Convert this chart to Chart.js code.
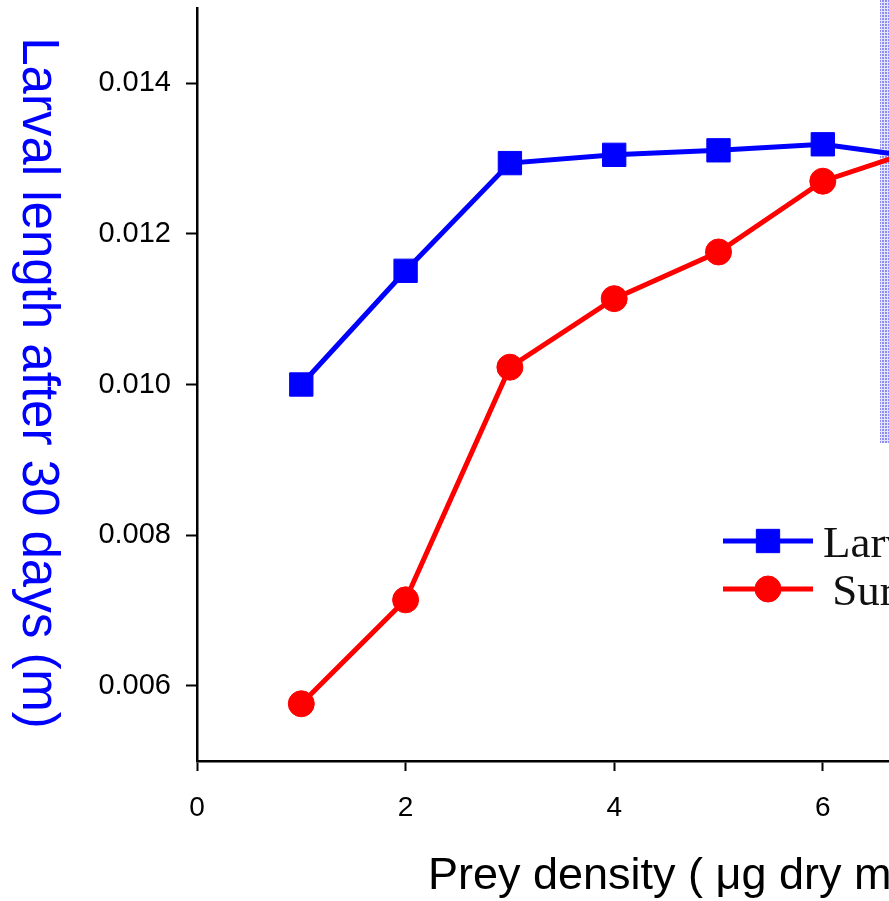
<!DOCTYPE html>
<html>
<head>
<meta charset="utf-8">
<script src="https://cdn.jsdelivr.net/npm/chart.js@4/dist/chart.umd.min.js"></script>
<style>
  html, body { margin: 0; padding: 0; overflow: hidden; background: #fff; }
  canvas { display: block; }
</style>
</head>
<body>
<canvas id="c" width="1060" height="901"></canvas>
<script>
// ---- data ----
const preyDensity = [1, 2, 3, 4, 5, 6, 7];
const larvalLength = [0.0100, 0.01151, 0.01294, 0.01305, 0.01311, 0.01319, 0.01300];
const survival = [0.00576, 0.00714, 0.01023, 0.01114, 0.01176, 0.01270, 0.01316];
const yTicks = [0.006, 0.008, 0.010, 0.012, 0.014];
const xTicks = [0, 2, 4, 6, 8];
const seriesLabels = ['Larval length', 'Survival'];
const yTitle = 'Larval length after 30 days (m)';
const xTitle = 'Prey density ( \u03bcg dry mass L\u207b\u00b9)';

const W = 1060, H = 901;
const AX_LEFT = 197, AX_BOTTOM = 761, AX_TOP = 8;
const X_MAX = 8, PX_PER_UNIT = 104.3;
const AX_RIGHT = AX_LEFT + X_MAX * PX_PER_UNIT;

const decor = {
  id: 'decor',
  beforeDatasetsDraw(chart) {
    const ctx = chart.ctx;
    // light blue hatched strip at the right edge
    const pc = document.createElement('canvas');
    pc.width = 3; pc.height = 3;
    const p = pc.getContext('2d');
    p.fillStyle = '#e6e6fb'; p.fillRect(0, 0, 3, 3);
    p.fillStyle = 'rgba(120,120,240,0.8)'; p.fillRect(0, 0, 2, 2);
    ctx.save();
    ctx.fillStyle = ctx.createPattern(pc, 'repeat');
    ctx.fillRect(880, 0, 24, 443);
    ctx.restore();
  },
  afterDraw(chart) {
    const ctx = chart.ctx;
    ctx.save();
    // y-axis title (reads top to bottom)
    ctx.translate(23, 383);
    ctx.rotate(Math.PI / 2);
    ctx.font = '51px "Liberation Sans", Arial, sans-serif';
    ctx.fillStyle = '#0000ff';
    ctx.textAlign = 'center';
    ctx.textBaseline = 'alphabetic';
    ctx.fillText(yTitle, 0, 0);
    ctx.restore();

    // x-axis title
    ctx.save();
    ctx.font = '45px "Liberation Sans", Arial, sans-serif';
    ctx.fillStyle = '#000';
    ctx.textAlign = 'left';
    ctx.textBaseline = 'alphabetic';
    ctx.fillText(xTitle, 428, 889);
    ctx.restore();

    // legend
    const ds = chart.data.datasets;
    const rows = [541, 589];
    ds.forEach((d, i) => {
      const y = rows[i];
      ctx.save();
      ctx.strokeStyle = d.borderColor;
      ctx.lineWidth = 5;
      ctx.beginPath();
      ctx.moveTo(723, y); ctx.lineTo(813, y);
      ctx.stroke();
      ctx.fillStyle = d.pointBackgroundColor;
      ctx.strokeStyle = d.pointBorderColor;
      ctx.lineWidth = d.pointBorderWidth;
      Chart.helpers.drawPoint(ctx, {pointStyle: d.pointStyle, radius: d.pointRadius, borderWidth: d.pointBorderWidth}, 768, y);
      ctx.font = '45px "Liberation Serif", "Times New Roman", serif';
      ctx.fillStyle = '#111';
      ctx.textAlign = 'left';
      ctx.textBaseline = 'alphabetic';
      ctx.fillText((i === 1 ? ' ' : '') + d.label, i === 0 ? 823 : 821, y + 16);
      ctx.restore();
    });
  }
};

const tickFont = { family: '"Liberation Sans", Arial, sans-serif', size: 29, lineHeight: 0.4 };

const chart = new Chart(document.getElementById('c'), {
  type: 'line',
  data: {
    labels: preyDensity,
    datasets: [
      {
        label: seriesLabels[0],
        data: preyDensity.map((x, i) => ({x, y: larvalLength[i]})),
        borderColor: '#0000ff', backgroundColor: '#0000ff',
        pointBackgroundColor: '#0000ff', pointBorderColor: '#0000ff',
        borderWidth: 5, pointStyle: 'rect', pointRadius: 16.5, pointBorderWidth: 1,
        tension: 0
      },
      {
        label: seriesLabels[1],
        data: preyDensity.map((x, i) => ({x, y: survival[i]})),
        borderColor: '#ff0000', backgroundColor: '#ff0000',
        pointBackgroundColor: '#ff0000', pointBorderColor: '#ff0000',
        borderWidth: 5, pointStyle: 'circle', pointRadius: 13, pointBorderWidth: 1,
        tension: 0
      }
    ]
  },
  options: {
    responsive: false,
    animation: false,
    events: [],
    devicePixelRatio: 1,
    layout: { autoPadding: false, padding: { left: 0, top: AX_TOP, right: W - AX_RIGHT, bottom: 0 } },
    plugins: { legend: { display: false }, tooltip: { enabled: false }, title: { display: false } },
    scales: {
      x: {
        type: 'linear', min: 0, max: X_MAX,
        afterBuildTicks(s) { s.ticks = xTicks.map(v => ({value: v})); },
        afterFit(s) { s.height = H - AX_BOTTOM; s.paddingLeft = 0; s.paddingRight = 0; },
        grid: { display: true, drawOnChartArea: false, drawTicks: true, tickLength: 10, tickColor: '#000', tickWidth: 2 },
        border: { display: true, color: '#000', width: 2.5 },
        ticks: { color: '#000', padding: 20, font: { family: '"Liberation Sans", Arial, sans-serif', size: 28 }, maxRotation: 0 }
      },
      y: {
        type: 'linear', min: 0.005, max: 0.015,
        afterBuildTicks(s) { s.ticks = yTicks.map(v => ({value: v})); },
        afterFit(s) { s.width = AX_LEFT; s.paddingTop = 0; s.paddingBottom = 0; },
        grid: { display: true, drawOnChartArea: false, drawTicks: true, tickLength: 11, tickColor: '#000', tickWidth: 2 },
        border: { display: true, color: '#000', width: 2.5 },
        ticks: { color: '#000', padding: 15, font: tickFont,
                 callback: v => Number(v).toFixed(3) }
      }
    }
  },
  plugins: [decor]
});

// nudge layout padding so the plot area lands where the reference has it
(function fixArea() {
  const ca = chart.chartArea;
  const pad = chart.options.layout.padding;
  pad.top = Math.max(0, pad.top - (ca.top - AX_TOP));
  pad.right = Math.max(0, pad.right + (ca.right - AX_RIGHT));
  chart.update();
})();
</script>
</body>
</html>
